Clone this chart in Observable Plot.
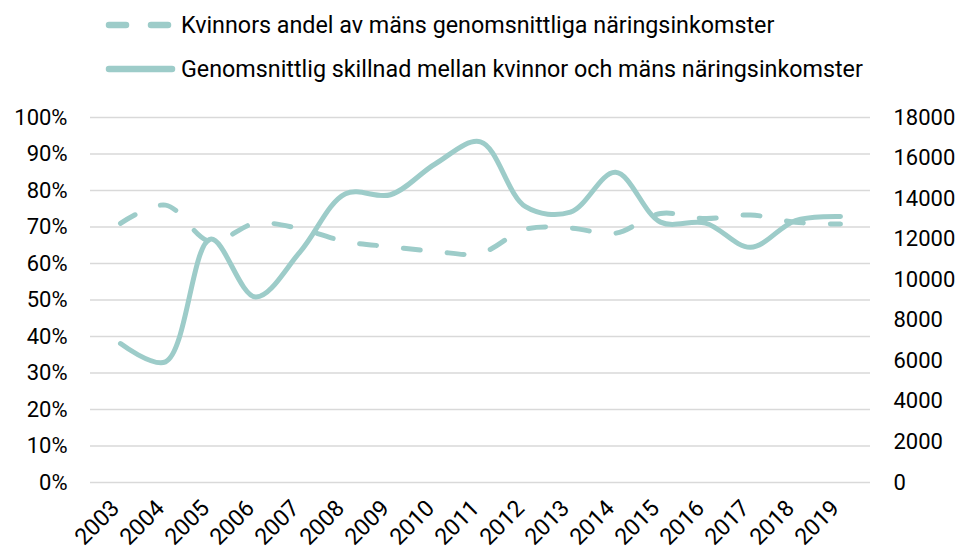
<!DOCTYPE html>
<html><head><meta charset="utf-8">
<script src="https://cdn.jsdelivr.net/npm/d3@7"></script>
<script src="https://cdn.jsdelivr.net/npm/@observablehq/plot@0.6"></script>
<style>
body{margin:0;background:#fff;font-family:Roboto,sans-serif;color:#000;}
#legend{position:relative;width:963px;height:95px;}
#legend svg{position:absolute;left:0;top:0;}
</style>
</head><body>
<div id="legend"></div>
<div id="chart"></div>
<script>
const years = ["2003","2004","2005","2006","2007","2008","2009","2010","2011","2012","2013","2014","2015","2016","2017","2018","2019"];
// Kvinnors andel av mäns genomsnittliga näringsinkomster (%)
const share = [71, 76, 66, 71, 69.5, 66, 64.6, 63.3, 62.8, 69.4, 69.7, 68.3, 73.7, 72.3, 73.3, 71.3, 70.8];
// Genomsnittlig skillnad mellan kvinnor och mäns näringsinkomster (kr)
const diff = [6850, 5950, 12000, 9150, 11400, 14240, 14190, 15720, 16800, 13600, 13330, 15300, 12840, 12790, 11600, 12920, 13120];
const leftTicks = [0,10,20,30,40,50,60,70,80,90,100];
const rightTicks = [0,2000,4000,6000,8000,10000,12000,14000,16000,18000];
const seriesNames = ["Kvinnors andel av mäns genomsnittliga näringsinkomster","Genomsnittlig skillnad mellan kvinnor och mäns näringsinkomster"];
const rightMax = 18000;
const color = "#9dccc9";

const data = years.map((y,i)=>({year:y, share:share[i], diff:diff[i]}));

// legend
const lg = d3.select("#legend").append("svg").attr("width",963).attr("height",95);
const rows = [{y:25,dash:"17,25"},{y:69,dash:null}];
rows.forEach((r,i)=>{
  const l = lg.append("line").attr("x1",109).attr("x2",172).attr("y1",r.y).attr("y2",r.y)
    .attr("stroke",color).attr("stroke-width",6.5).attr("stroke-linecap","round");
  if (r.dash) l.attr("stroke-dasharray",r.dash);
  lg.append("text").attr("x",181).attr("y",r.y).attr("dy","0.35em")
    .attr("font-family","Roboto").attr("font-size",23.3).attr("fill","#000").text(seriesNames[i]);
});

const plot = Plot.plot({
  width: 963, height: 456,
  marginTop: 22, marginBottom: 69, marginLeft: 90, marginRight: 93,
  style: {fontFamily: "Roboto", fontSize: "22px", color: "#000", background: "#fff"},
  x: {type: "point", domain: years, padding: 0.5, label: null},
  y: {domain: [0, 100], label: null},
  marks: [
    Plot.ruleY(leftTicks, {stroke: "#d9d9d9", strokeWidth: 1.5}),
    Plot.axisY(leftTicks, {anchor: "left", tickSize: 0, tickPadding: 23, tickFormat: d => d + "%", label: null}),
    Plot.axisY(rightTicks.map(v => v / rightMax * 100), {anchor: "right", tickSize: 0, tickPadding: 23, tickFormat: d => String(Math.round(d * rightMax / 100)), label: null}),
    Plot.axisX({tickRotate: -45, tickSize: 0, tickPadding: 22, fontSize: 23, dx: -5, label: null}),
    Plot.line(data, {x: "year", y: "share", curve: "catmull-rom", stroke: color, strokeWidth: 5, strokeDasharray: "17,27", strokeLinecap: "round"}),
    Plot.line(data, {x: "year", y: d => d.diff / rightMax * 100, curve: "catmull-rom", stroke: color, strokeWidth: 5, strokeLinecap: "round"})
  ]
});
document.getElementById("chart").appendChild(plot);
</script>
</body></html>
